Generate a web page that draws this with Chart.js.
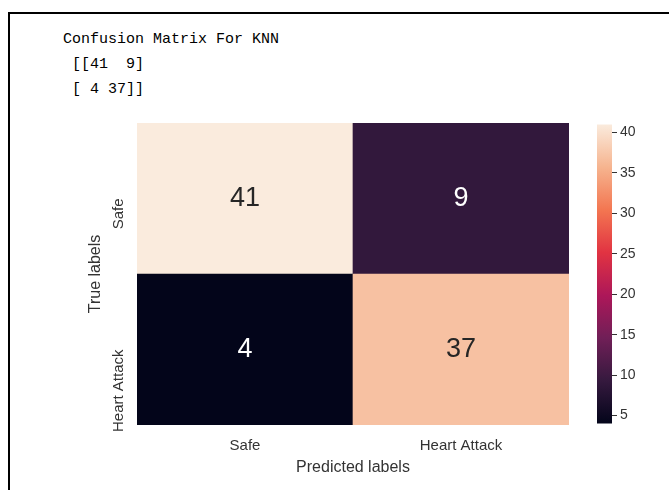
<!DOCTYPE html>
<html>
<head>
<meta charset="utf-8">
<script src="https://cdn.jsdelivr.net/npm/chart.js@4/dist/chart.umd.min.js"></script>
<style>
  html, body { margin: 0; padding: 0; background: #fff; }
  body { width: 669px; height: 490px; position: relative; overflow: hidden; }
  #frame { position: absolute; left: 8px; top: 12px; width: 700px; height: 520px;
           border-left: 2px solid #000; border-top: 2px solid #000; }
  #out { position: absolute; left: 63px; top: 27px; margin: 0;
         font: 15px/25px "Liberation Mono", "Courier New", monospace; color: #000; white-space: pre; }
  #heat { position: absolute; left: 0; top: 0; }
  #cbar { position: absolute; left: 597px; top: 113px; }
</style>
</head>
<body>
<div id="frame"></div>
<pre id="out"></pre>
<canvas id="heat" width="669" height="490"></canvas>
<canvas id="cbar" width="60" height="322"></canvas>
<script>
// Confusion matrix for the KNN classifier
const modelName = 'KNN';
const trueLabels = ['Safe', 'Heart Attack'];       // rows, top to bottom
const predictedLabels = ['Safe', 'Heart Attack'];  // columns, left to right
const rowSafe = [41, 9];
const rowHeartAttack = [4, 37];
const colorbarTicks = [5, 10, 15, 20, 25, 30, 35, 40];

const matrix = [rowSafe, rowHeartAttack];
const allValues = matrix.flat();
const vmin = Math.min(...allValues);
const vmax = Math.max(...allValues);

// printed output, numpy style
const w = String(vmax).length;
const rows = matrix.map(r => '[' + r.map(v => String(v).padStart(w, ' ')).join(' ') + ']');
document.getElementById('out').textContent =
  'Confusion Matrix For ' + modelName + '\n [' + rows.join('\n ') + ']';

// "rocket" colormap
const rocketStops = [
  [0, '#03051a'], [1/7, '#35193e'], [2/7, '#701f57'], [3/7, '#ad1759'],
  [4/7, '#e13342'], [5/7, '#f37651'], [6/7, '#f6b48f'], [1, '#faebdd']
];
function hexRgb(h) { return [1, 3, 5].map(i => parseInt(h.substr(i, 2), 16)); }
function rocketRgb(t) {
  t = Math.max(0, Math.min(1, t));
  for (let i = 1; i < rocketStops.length; i++) {
    const [t1, c1] = rocketStops[i];
    if (t <= t1) {
      const [t0, c0] = rocketStops[i - 1];
      const f = (t - t0) / (t1 - t0);
      const a = hexRgb(c0), b = hexRgb(c1);
      return a.map((v, k) => Math.round(v + (b[k] - v) * f));
    }
  }
  return hexRgb(rocketStops[rocketStops.length - 1][1]);
}
function cellColor(v) {
  const [r, g, b] = rocketRgb((v - vmin) / (vmax - vmin));
  return `rgb(${r},${g},${b})`;
}
function textColorFor(v) {
  const lum = rocketRgb((v - vmin) / (vmax - vmin)).map(c => {
    c /= 255; return c <= 0.03928 ? c / 12.92 : Math.pow((c + 0.055) / 1.055, 2.4);
  });
  const L = 0.2126 * lum[0] + 0.7152 * lum[1] + 0.0722 * lum[2];
  return L > 0.408 ? '#262626' : '#ffffff';
}

Chart.defaults.font.family = '"Liberation Sans", Arial, sans-serif';
Chart.defaults.color = '#333';

// one stacked bar per matrix row; bottom row first
const nRows = trueLabels.length;
const datasets = [];
for (let i = nRows - 1; i >= 0; i--) {
  datasets.push({
    label: trueLabels[i],
    values: matrix[i],
    data: matrix[i].map(() => 1),
    backgroundColor: matrix[i].map(cellColor),
    borderWidth: 0,
    barPercentage: 1,
    categoryPercentage: 1
  });
}

const labelFont = '15px "Liberation Sans", Arial, sans-serif';
const titleFont = '16px "Liberation Sans", Arial, sans-serif';

const heatLabels = {
  id: 'heatLabels',
  afterDraw(chart) {
    const { ctx, chartArea, scales: { x, y } } = chart;
    ctx.save();
    // cell values
    ctx.font = '27px "Liberation Sans", Arial, sans-serif';
    ctx.textAlign = 'center';
    ctx.textBaseline = 'middle';
    chart.data.datasets.forEach((ds, di) => {
      chart.getDatasetMeta(di).data.forEach((el, j) => {
        const p = el.getCenterPoint();
        const v = ds.values[j];
        ctx.fillStyle = textColorFor(v);
        ctx.fillText(String(v), p.x, p.y);
      });
    });
    ctx.fillStyle = '#333';
    // column labels
    ctx.font = labelFont;
    ctx.textBaseline = 'alphabetic';
    predictedLabels.forEach((lab, j) => {
      ctx.fillText(lab, x.getPixelForValue(j), chartArea.bottom + 25);
    });
    // x title
    ctx.font = titleFont;
    ctx.fillText('Predicted labels', (chartArea.left + chartArea.right) / 2, chartArea.bottom + 47);
    // row labels, rotated
    ctx.font = labelFont;
    ctx.textAlign = 'right';
    trueLabels.forEach((lab, i) => {
      const py = y.getPixelForValue(nRows - i - 0.5);
      ctx.save();
      ctx.translate(chartArea.left - 14, py);
      ctx.rotate(-Math.PI / 2);
      ctx.fillText(lab, 0, 0);
      ctx.restore();
    });
    // y title
    ctx.font = titleFont;
    ctx.textAlign = 'center';
    ctx.save();
    ctx.translate(chartArea.left - 37, (chartArea.top + chartArea.bottom) / 2);
    ctx.rotate(-Math.PI / 2);
    ctx.fillText('True labels', 0, 0);
    ctx.restore();
    ctx.restore();
  }
};

new Chart(document.getElementById('heat'), {
  type: 'bar',
  data: { labels: predictedLabels, datasets },
  options: {
    responsive: false,
    animation: false,
    devicePixelRatio: 1,
    layout: { padding: { left: 137, right: 100, top: 123, bottom: 65 } },
    plugins: { legend: { display: false }, tooltip: { enabled: false } },
    scales: {
      x: { type: 'category', stacked: true, display: false },
      y: { type: 'linear', stacked: true, min: 0, max: nRows, display: false }
    }
  },
  plugins: [heatLabels]
});

// colour bar: one floating bar spanning the data range, filled with the colormap
new Chart(document.getElementById('cbar'), {
  type: 'bar',
  data: {
    labels: [''],
    datasets: [{
      data: [[vmin, vmax]],
      backgroundColor(c) {
        const ch = c.chart, ys = ch.scales.y;
        if (!ch.chartArea || !ys) return rocketStops[rocketStops.length - 1][1];
        const g = ch.ctx.createLinearGradient(0, ys.getPixelForValue(vmin), 0, ys.getPixelForValue(vmax));
        rocketStops.forEach(([t, col]) => g.addColorStop(t, col));
        return g;
      },
      borderWidth: 0,
      barPercentage: 1,
      categoryPercentage: 1
    }]
  },
  options: {
    responsive: false,
    animation: false,
    devicePixelRatio: 1,
    layout: { padding: { top: 10, bottom: 10, left: 0, right: 0 } },
    plugins: { legend: { display: false }, tooltip: { enabled: false } },
    scales: {
      x: { display: false },
      y: {
        position: 'right',
        min: vmin,
        max: vmax,
        afterBuildTicks(s) { s.ticks = colorbarTicks.map(v => ({ value: v })); },
        afterFit(s) { s.width = 45; },
        grid: { drawOnChartArea: false, drawTicks: true, tickLength: 5, tickColor: '#333', tickWidth: 1 },
        border: { display: false },
        ticks: { padding: 3, color: '#333', font: { size: 14 } }
      }
    }
  }
});
</script>
</body>
</html>
